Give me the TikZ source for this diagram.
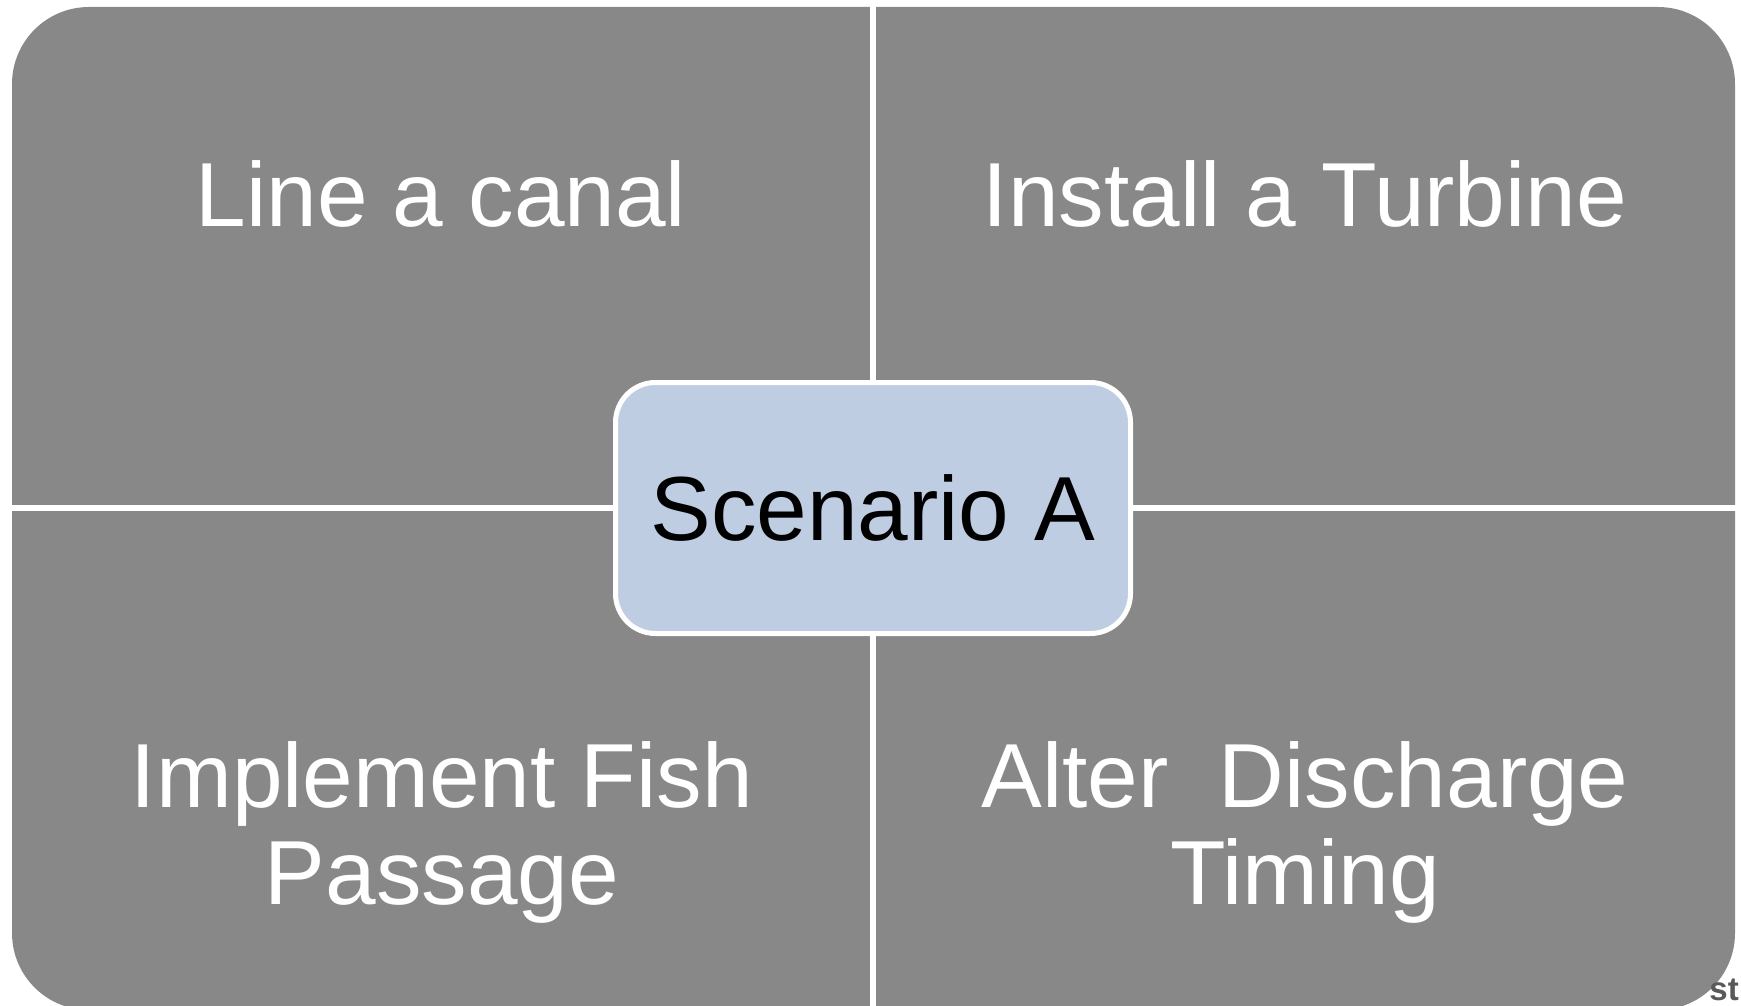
\documentclass[tikz,border=0pt]{standalone}
\usepackage{fontspec}
\setmainfont{Liberation Sans}
\definecolor{quadgray}{RGB}{136,136,136}
\definecolor{boxblue}{RGB}{191,205,226}
\definecolor{fragtext}{RGB}{88,89,91}
\begin{document}
\begin{tikzpicture}[x=1pt,y=-1pt,
  quadfill/.style={fill=quadgray, rounded corners=77pt},
  divider/.style={draw=white, line width=6pt},
  lbl/.style={text=white, font=\fontsize{91}{97}\selectfont, align=center, inner sep=0pt, anchor=base},
  centerbox/.style={draw=white, line width=5pt, fill=boxblue, rounded corners=40pt,
    minimum width=515pt, minimum height=251pt, inner sep=0pt, text=black,
    font=\fontsize{91}{97}\selectfont}]
\useasboundingbox (0,0) rectangle (1741,1006);
% background matrix
\path[quadfill] (12,7) rectangle (1735,1010);
% dividers
\coordinate (vtop) at (873,0);
\coordinate (vbot) at (873,1010);
\coordinate (hleft) at (0,508);
\coordinate (hright) at (1741,508);
\draw[divider] (vtop) -- (vbot);
\draw[divider] (hleft) -- (hright);
% quadrant labels
\node[lbl] (q1) at (441,226) {Line a canal};
\node[lbl] (q2) at (1305,226) {Install a Turbine};
\node[lbl] (q3) at (442,904) {Implement Fish\\Passage};
\node[lbl] (q4) at (1305,904) {Alter~~Discharge\\Timing};
% centre
\node[centerbox] (center) at (873,508) {Scenario A};
% cropped fragment at the lower right
\node[text=fragtext, font=\fontsize{33}{33}\selectfont\bfseries, inner sep=0pt, anchor=base east] (frag) at (1739,1000) {st};
\end{tikzpicture}
\end{document}
